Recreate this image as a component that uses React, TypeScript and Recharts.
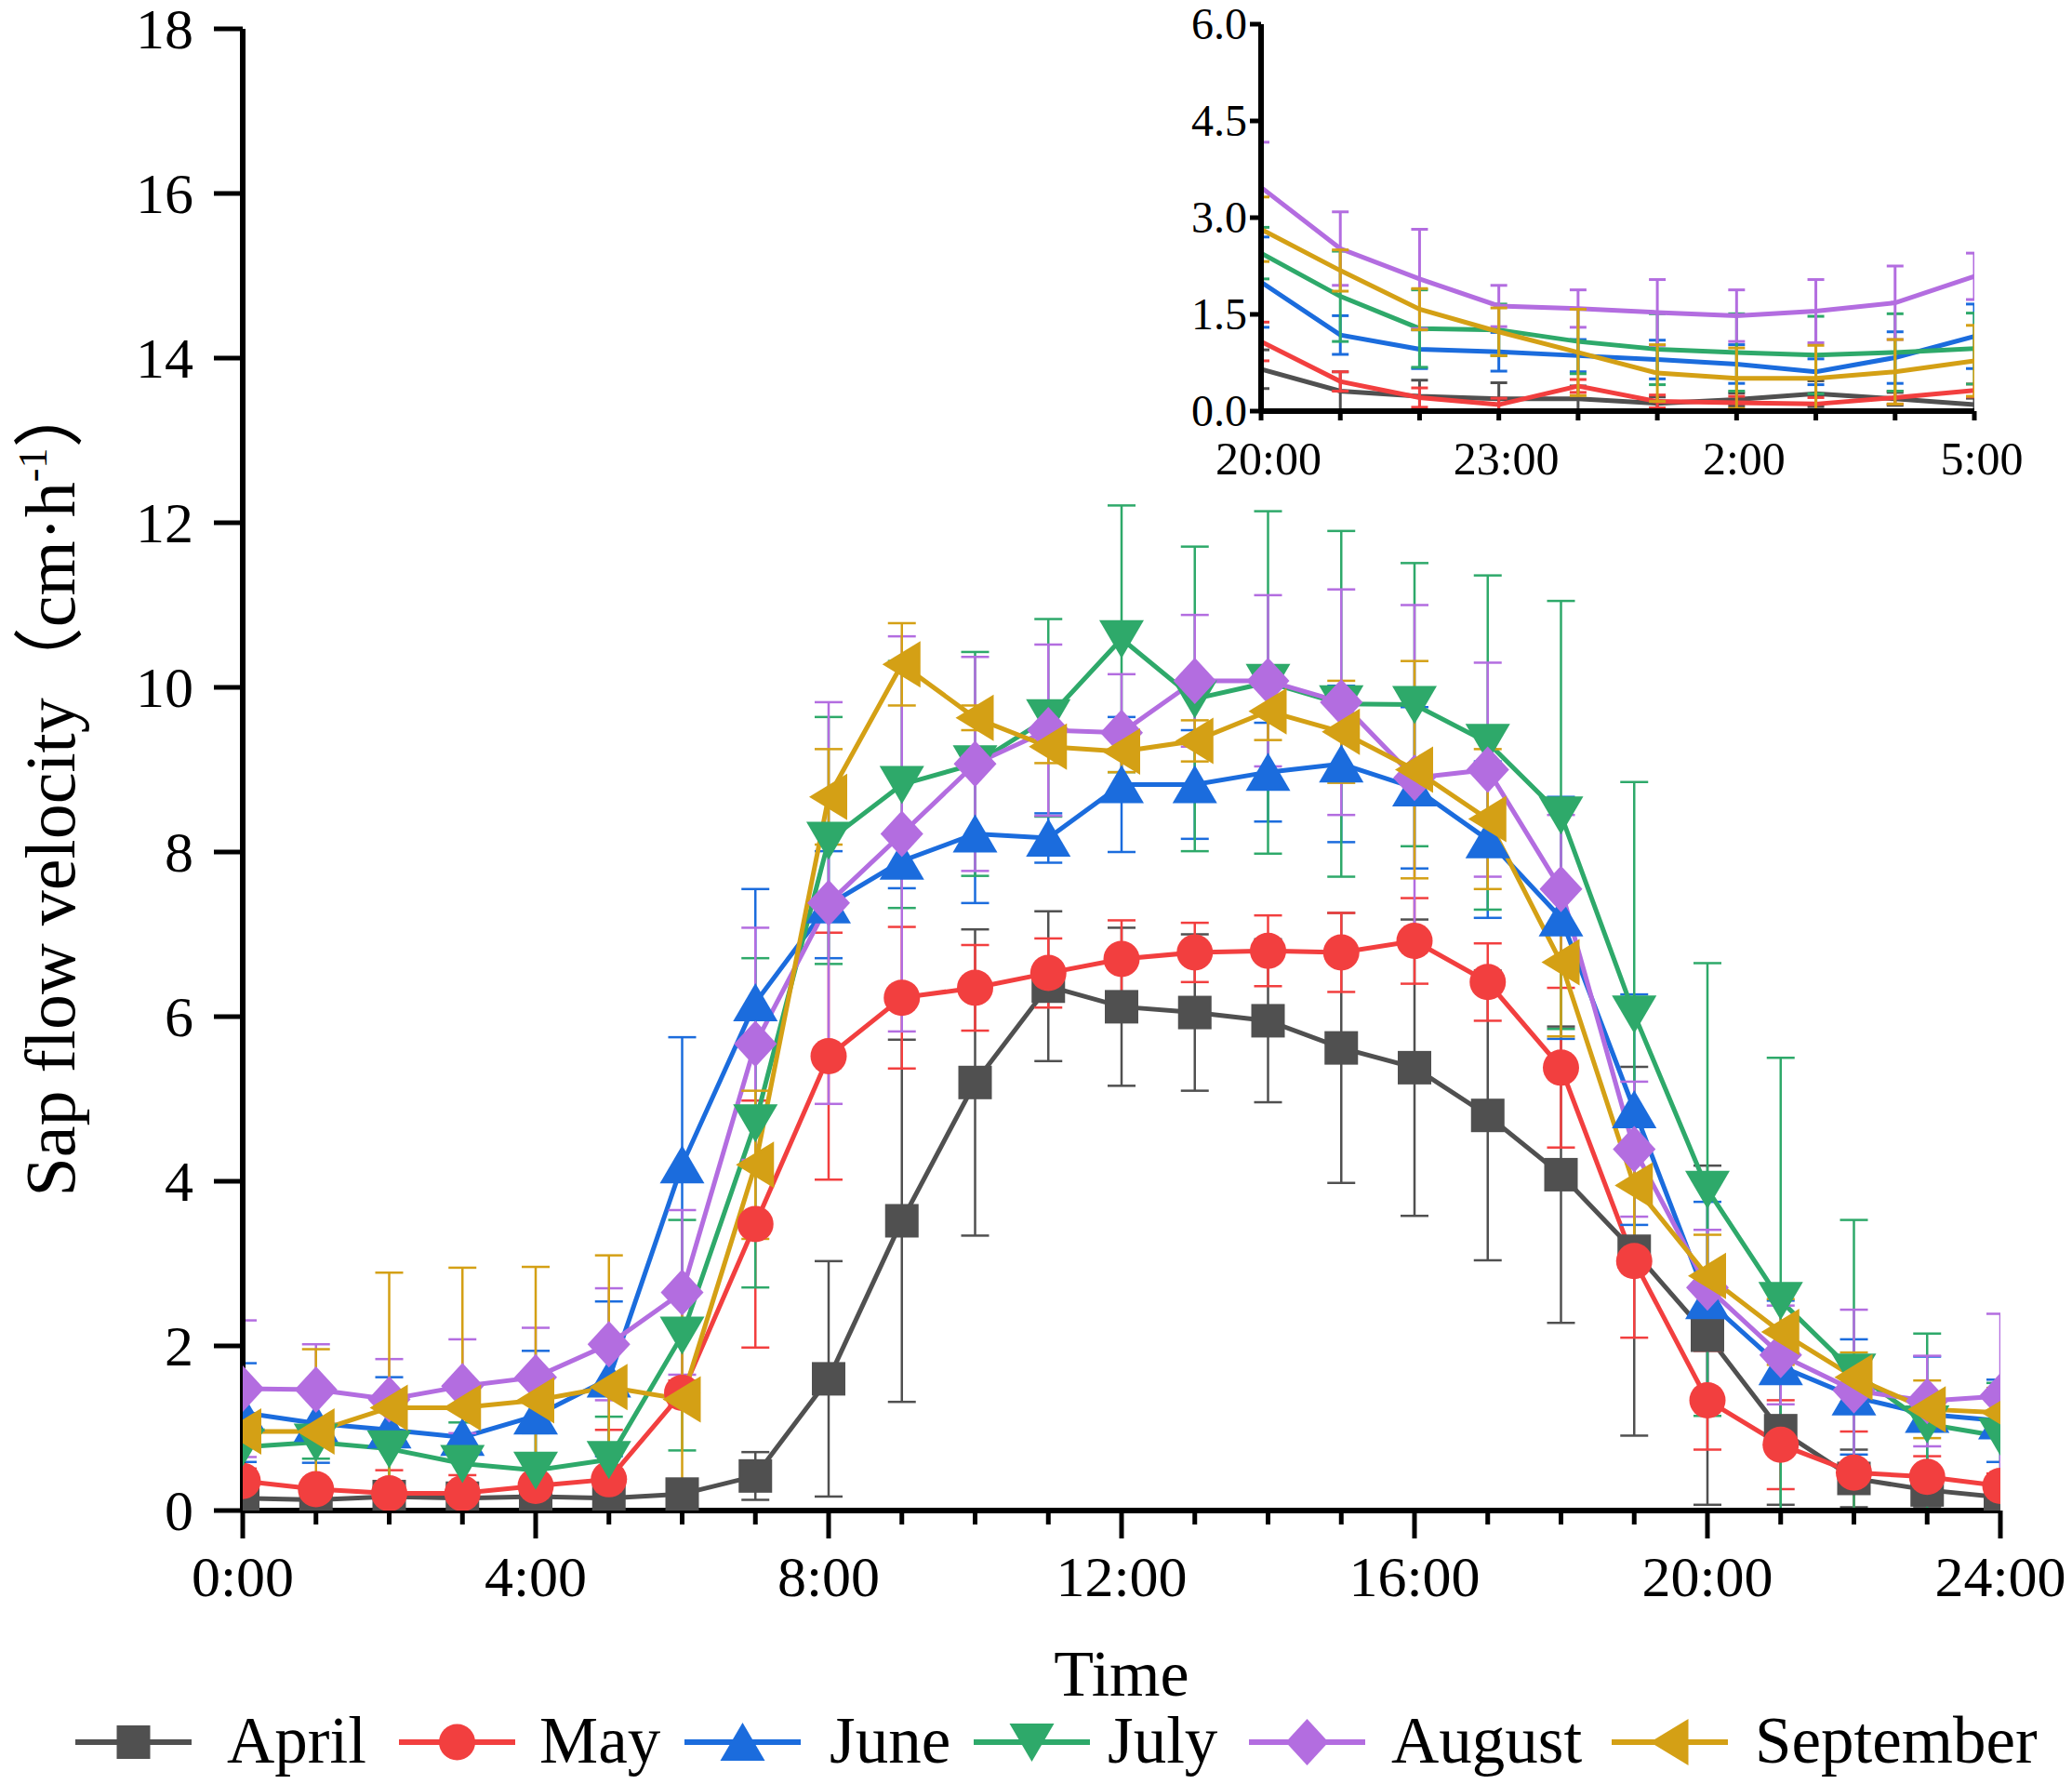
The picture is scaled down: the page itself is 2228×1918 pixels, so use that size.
import React from 'react';
import { LineChart, Line, XAxis, YAxis, ErrorBar } from 'recharts';

const FONT = '"Liberation Serif", "Times New Roman", "Noto Sans CJK SC", serif';

// ---------- main chart data ----------
const hours = [0, 1, 2, 3, 4, 5, 6, 7, 8, 9, 10, 11, 12, 13, 14, 15, 16, 17, 18, 19, 20, 21, 22, 23, 24];
const xMajorTicks = [0, 4, 8, 12, 16, 20, 24];
const xTickLabels = ['0:00', '4:00', '8:00', '12:00', '16:00', '20:00', '24:00'];
const yTicks = [0, 2, 4, 6, 8, 10, 12, 14, 16, 18];

const april = [0.15, 0.13, 0.17, 0.15, 0.17, 0.15, 0.2, 0.42, 1.6, 3.52, 5.2, 6.37, 6.12, 6.05, 5.95, 5.62, 5.38, 4.8, 4.08, 3.15, 2.13, 0.97, 0.39, 0.25, 0.16];
const aprilErr = [0.08, 0.06, 0.08, 0.1, 0.08, 0.08, 0.14, 0.29, 1.43, 2.2, 1.86, 0.91, 0.96, 0.95, 0.99, 1.64, 1.8, 1.76, 1.8, 2.24, 2.06, 0.9, 0.35, 0.2, 0.12];
const may = [0.36, 0.26, 0.21, 0.21, 0.3, 0.38, 1.43, 3.48, 5.52, 6.23, 6.35, 6.53, 6.7, 6.78, 6.8, 6.78, 6.92, 6.42, 5.38, 3.03, 1.34, 0.8, 0.46, 0.41, 0.3];
const mayErr = [0.15, 0.12, 0.28, 0.22, 0.36, 0.6, 0.15, 1.5, 1.5, 0.86, 0.52, 0.42, 0.47, 0.36, 0.43, 0.48, 0.52, 0.47, 0.97, 0.93, 0.6, 0.54, 0.5, 0.25, 0.15];
const june = [1.19, 1.06, 0.98, 0.89, 1.15, 1.6, 4.2, 6.17, 7.36, 7.89, 8.22, 8.17, 8.82, 8.82, 8.97, 9.07, 8.78, 8.15, 7.2, 4.87, 2.55, 1.75, 1.38, 1.17, 1.09];
const juneErr = [0.6, 0.48, 0.64, 0.68, 0.79, 0.94, 1.55, 1.38, 0.65, 0.33, 0.84, 0.3, 0.82, 0.66, 0.6, 0.95, 0.98, 0.95, 1.47, 1.4, 1.2, 0.8, 0.7, 0.7, 0.5];
const july = [0.77, 0.83, 0.75, 0.57, 0.49, 0.62, 2.13, 4.71, 8.14, 8.82, 9.07, 9.63, 10.59, 9.86, 10.06, 9.8, 9.79, 9.33, 8.45, 6.03, 3.9, 2.55, 1.68, 1.05, 0.9];
const julyErr = [0.3, 0.2, 0.56, 0.5, 0.45, 0.52, 1.4, 2.0, 1.5, 1.5, 1.36, 1.2, 1.62, 1.85, 2.08, 2.1, 1.72, 2.03, 2.6, 2.82, 2.75, 2.95, 1.85, 1.1, 0.65];
const august = [1.48, 1.47, 1.35, 1.51, 1.62, 2.02, 2.65, 5.67, 7.38, 8.22, 9.07, 9.48, 9.45, 10.08, 10.08, 9.82, 8.9, 9.0, 7.55, 4.39, 2.71, 1.89, 1.46, 1.33, 1.39];
const augustErr = [0.83, 0.55, 0.49, 0.57, 0.6, 0.68, 1.0, 1.41, 2.44, 2.4, 1.3, 1.04, 0.71, 0.8, 1.04, 1.37, 2.1, 1.3, 0.9, 0.82, 0.7, 0.6, 0.98, 0.55, 1.0];
const september = [0.96, 0.96, 1.25, 1.25, 1.34, 1.5, 1.35, 4.2, 8.67, 10.28, 9.63, 9.28, 9.22, 9.35, 9.71, 9.46, 9.0, 8.4, 6.66, 3.95, 2.85, 2.17, 1.62, 1.23, 1.19];
const septemberErr = [0.6, 1.0, 1.64, 1.7, 1.62, 1.6, 1.33, 0.9, 0.58, 0.5, 0.15, 0.2, 0.25, 0.25, 0.35, 0.62, 1.32, 0.85, 0.9, 0.8, 0.5, 0.4, 0.3, 0.35, 0.3];

// ---------- inset data ----------
const insetIdx = [0, 1, 2, 3, 4, 5, 6, 7, 8, 9];
const insetHourLabels = ['20:00', '21:00', '22:00', '23:00', '0:00', '1:00', '2:00', '3:00', '4:00', '5:00'];
const insetMajorTicks = [0, 3, 6, 9];
const insetYTicks = [0, 1.5, 3, 4.5, 6];
const insetYLabels = ['0.0', '1.5', '3.0', '4.5', '6.0'];

const inApril = [0.65, 0.31, 0.23, 0.19, 0.19, 0.12, 0.18, 0.27, 0.19, 0.1];
const inAprilErr = [0.3, 0.3, 0.25, 0.25, 0.2, 0.1, 0.1, 0.2, 0.1, 0.1];
const inMay = [1.08, 0.46, 0.21, 0.1, 0.39, 0.15, 0.13, 0.11, 0.21, 0.32];
const inMayErr = [0.3, 0.15, 0.15, 0.1, 0.1, 0.1, 0.1, 0.1, 0.1, 0.1];
const inJune = [2.0, 1.18, 0.96, 0.92, 0.86, 0.8, 0.73, 0.61, 0.83, 1.16];
const inJuneErr = [0.7, 0.3, 0.3, 0.3, 0.25, 0.3, 0.3, 0.2, 0.4, 0.5];
const inJuly = [2.45, 1.78, 1.28, 1.26, 1.08, 0.96, 0.91, 0.87, 0.91, 0.97];
const inJulyErr = [0.4, 0.7, 0.6, 0.4, 0.5, 0.55, 0.6, 0.6, 0.6, 0.55];
const inAugust = [3.47, 2.52, 2.05, 1.63, 1.59, 1.53, 1.48, 1.55, 1.68, 2.09];
const inAugustErr = [0.7, 0.57, 0.77, 0.32, 0.29, 0.51, 0.4, 0.49, 0.57, 0.36];
const inSeptember = [2.82, 2.18, 1.58, 1.23, 0.91, 0.59, 0.51, 0.51, 0.61, 0.78];
const inSeptemberErr = [0.5, 0.32, 0.32, 0.37, 0.67, 0.44, 0.47, 0.51, 0.5, 0.55];

type Shape = 'square' | 'circle' | 'up' | 'down' | 'diamond' | 'left';

const series: { key: string; name: string; color: string; shape: Shape; values: number[]; errors: number[]; inVals: number[]; inErr: number[] }[] = [
  { key: 'april', name: 'April', color: '#505050', shape: 'square', values: april, errors: aprilErr, inVals: inApril, inErr: inAprilErr },
  { key: 'may', name: 'May', color: '#f23f3f', shape: 'circle', values: may, errors: mayErr, inVals: inMay, inErr: inMayErr },
  { key: 'june', name: 'June', color: '#1b6cdd', shape: 'up', values: june, errors: juneErr, inVals: inJune, inErr: inJuneErr },
  { key: 'july', name: 'July', color: '#2ea96a', shape: 'down', values: july, errors: julyErr, inVals: inJuly, inErr: inJulyErr },
  { key: 'august', name: 'August', color: '#b36de0', shape: 'diamond', values: august, errors: augustErr, inVals: inAugust, inErr: inAugustErr },
  { key: 'september', name: 'September', color: '#d4a015', shape: 'left', values: september, errors: septemberErr, inVals: inSeptember, inErr: inSeptemberErr },
];

const mainData = hours.map((h, i) => {
  const row: Record<string, number> = { h };
  series.forEach((s) => {
    row[s.key] = s.values[i];
    row[s.key + 'Err'] = s.errors[i];
  });
  return row;
});

const insetData = insetIdx.map((x, i) => {
  const row: Record<string, number> = { x };
  series.forEach((s) => {
    row[s.key] = s.inVals[i];
    row[s.key + 'Err'] = s.inErr[i];
  });
  return row;
});

function marker(shape: Shape, cx: number, cy: number, color: string, key?: string) {
  switch (shape) {
    case 'square':
      return <rect key={key} x={cx - 18} y={cy - 18} width={36} height={36} fill={color} />;
    case 'circle':
      return <circle key={key} cx={cx} cy={cy} r={19.5} fill={color} />;
    case 'up':
      return <polygon key={key} points={`${cx},${cy - 21} ${cx + 24},${cy + 20} ${cx - 24},${cy + 20}`} fill={color} />;
    case 'down':
      return <polygon key={key} points={`${cx - 24},${cy - 20} ${cx + 24},${cy - 20} ${cx},${cy + 21}`} fill={color} />;
    case 'diamond':
      return <polygon key={key} points={`${cx},${cy - 25} ${cx + 23},${cy} ${cx},${cy + 25} ${cx - 23},${cy}`} fill={color} />;
    case 'left':
    default:
      return <polygon key={key} points={`${cx - 21},${cy} ${cx + 20},${cy - 25} ${cx + 20},${cy + 25}`} fill={color} />;
  }
}

const MainXTick = (props: any) => {
  const { x, y, payload } = props;
  const idx = xMajorTicks.indexOf(payload.value);
  const major = idx >= 0;
  return (
    <g>
      <line x1={x} y1={y} x2={x} y2={y + (major ? 30 : 15)} stroke="#000" strokeWidth={5} />
      {major && (
        <text x={x} y={y + 92} textAnchor="middle" fontFamily={FONT} fontSize={62} fill="#000">
          {xTickLabels[idx]}
        </text>
      )}
    </g>
  );
};

const MainYTick = (props: any) => {
  const { x, y, payload } = props;
  return (
    <g>
      <line x1={x} y1={y} x2={x - 31} y2={y} stroke="#000" strokeWidth={5} />
      <text x={x - 53} y={y + 21} textAnchor="end" fontFamily={FONT} fontSize={62} fill="#000">
        {payload.value}
      </text>
    </g>
  );
};

const InsetXTick = (props: any) => {
  const { x, y, payload } = props;
  const major = insetMajorTicks.indexOf(payload.value) >= 0;
  return (
    <g>
      <line x1={x} y1={y} x2={x} y2={y + 10} stroke="#000" strokeWidth={5} />
      {major && (
        <text x={x + 8} y={y + 68} textAnchor="middle" fontFamily={FONT} fontSize={50} fill="#000">
          {insetHourLabels[payload.value]}
        </text>
      )}
    </g>
  );
};

const InsetYTick = (props: any) => {
  const { x, y, payload } = props;
  const idx = insetYTicks.indexOf(payload.value);
  return (
    <g>
      <line x1={x} y1={y} x2={x - 12} y2={y} stroke="#000" strokeWidth={5} />
      <text x={x - 15} y={y + 16} textAnchor="end" fontFamily={FONT} fontSize={48} fill="#000">
        {idx >= 0 ? insetYLabels[idx] : payload.value}
      </text>
    </g>
  );
};

// legend layout (pixel positions of each entry)
const legendLineX = [81, 429, 736, 1047, 1343, 1733];
const legendTextX = [244, 580, 892, 1191, 1496, 1887];
const LEGEND_LINE_LEN = 125;

const css = `
.main-chart .recharts-errorBar, .main-chart .recharts-line-dots { clip-path: url(#mainPlotClip); }
.inset-chart .recharts-errorBar { clip-path: url(#insetPlotClip); }
`;

export default function App() {
  return (
    <div style={{ position: 'absolute', left: 0, top: 0, width: 2228, height: 1918, background: '#fff' }}>
      <style>{css}</style>
      <svg width={0} height={0} style={{ position: 'absolute', left: 0, top: 0 }}>
        <defs>
          <clipPath id="mainPlotClip" clipPathUnits="userSpaceOnUse">
            <rect x={261} y={0} width={1890} height={1624} />
          </clipPath>
          <clipPath id="insetPlotClip" clipPathUnits="userSpaceOnUse">
            <rect x={120} y={0} width={767} height={442} />
          </clipPath>
        </defs>
      </svg>
      <div className="main-chart" style={{ position: 'absolute', left: 0, top: 0 }}>
        <LineChart width={2228} height={1918} data={mainData} margin={{ top: 31, right: 77, bottom: 194, left: 161 }}>
          <XAxis
            dataKey="h"
            type="number"
            domain={[0, 24]}
            ticks={hours}
            interval={0}
            allowDataOverflow
            height={100}
            tickSize={0}
            tickMargin={0}
            tickLine={false}
            axisLine={{ stroke: '#000', strokeWidth: 6 }}
            tick={<MainXTick />}
          />
          <YAxis
            type="number"
            domain={[0, 18]}
            ticks={yTicks}
            interval={0}
            allowDataOverflow
            width={100}
            tickSize={0}
            tickMargin={0}
            tickLine={false}
            axisLine={{ stroke: '#000', strokeWidth: 6 }}
            tick={<MainYTick />}
          />
          {series.map((s) => (
            <Line
              key={s.key}
              dataKey={s.key}
              stroke={s.color}
              strokeWidth={5}
              isAnimationActive={false}
              dot={(p: any) => marker(s.shape, p.cx, p.cy, s.color, `${s.key}-dot-${p.index}`)}
              activeDot={false}
            >
              <ErrorBar dataKey={s.key + 'Err'} direction="y" width={15} strokeWidth={2.5} stroke={s.color} />
            </Line>
          ))}
        </LineChart>
      </div>

      <div className="inset-chart" style={{ position: 'absolute', left: 1236, top: 0 }}>
        <LineChart width={992} height={560} data={insetData} margin={{ top: 26, right: 105, bottom: 58, left: 60 }}>
          <XAxis
            dataKey="x"
            type="number"
            domain={[0, 9]}
            ticks={insetIdx}
            interval={0}
            allowDataOverflow
            height={60}
            tickSize={0}
            tickMargin={0}
            tickLine={false}
            axisLine={{ stroke: '#000', strokeWidth: 6 }}
            tick={<InsetXTick />}
          />
          <YAxis
            type="number"
            domain={[0, 6]}
            ticks={insetYTicks}
            interval={0}
            allowDataOverflow
            width={60}
            tickSize={0}
            tickMargin={0}
            tickLine={false}
            axisLine={{ stroke: '#000', strokeWidth: 6 }}
            tick={<InsetYTick />}
          />
          {series.map((s) => (
            <Line
              key={s.key}
              dataKey={s.key}
              stroke={s.color}
              strokeWidth={5}
              isAnimationActive={false}
              dot={false}
              activeDot={false}
            >
              <ErrorBar dataKey={s.key + 'Err'} direction="y" width={9} strokeWidth={3} stroke={s.color} />
            </Line>
          ))}
        </LineChart>
      </div>

      <svg width={2228} height={1918} style={{ position: 'absolute', left: 0, top: 0, pointerEvents: 'none' }}>
        <text
          x={80}
          y={846}
          transform="rotate(-90 80 846)"
          textAnchor="middle"
          fontFamily={FONT}
          fontSize={76}
          fill="#000"
        >
          Sap flow velocity（cm·h
          <tspan dy={-30} fontSize={44}>-1</tspan>
          <tspan dy={30}>）</tspan>
        </text>
        <text x={1206} y={1823} textAnchor="middle" fontFamily={FONT} fontSize={70} fill="#000">
          Time
        </text>
        {series.map((s, i) => {
          const x0 = legendLineX[i];
          const mx = x0 + LEGEND_LINE_LEN / 2;
          return (
            <g key={s.key}>
              <line x1={x0} y1={1873} x2={x0 + LEGEND_LINE_LEN} y2={1873} stroke={s.color} strokeWidth={6} />
              {marker(s.shape, mx, 1873, s.color)}
              <text x={legendTextX[i]} y={1895} fontFamily={FONT} fontSize={71} fill="#000">
                {s.name}
              </text>
            </g>
          );
        })}
      </svg>
    </div>
  );
}
